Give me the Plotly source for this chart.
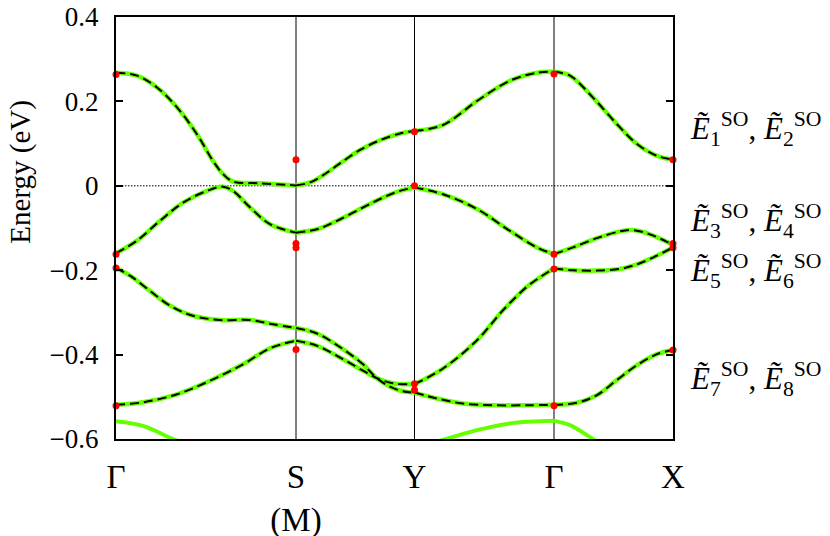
import plotly.graph_objects as go

# High-symmetry points along the k-path (arbitrary path-length units)
sym_labels = ["Γ", "S<br>(M)", "Y", "Γ", "X"]
sym_k = [0.0, 1.80, 2.985, 4.38, 5.57]

# Bands (k, E in eV); segments are separated where a k value repeats
b1_k = [0, 0.21, 0.41, 0.61, 0.81, 0.97, 1.07, 1.17, 1.44, 1.80,
        1.80, 1.94, 2.09, 2.24, 2.44, 2.64, 2.84, 2.985,
        2.985, 3.27, 3.61, 3.94, 4.21, 4.38,
        4.38, 4.54, 4.77, 5.01, 5.21, 5.41, 5.57]
b1_e = [0.268, 0.261, 0.233, 0.186, 0.122, 0.059, 0.028, 0.010, 0.006, 0.001,
        0.001, 0.008, 0.028, 0.053, 0.085, 0.108, 0.124, 0.130,
        0.130, 0.144, 0.201, 0.249, 0.268, 0.270,
        0.270, 0.261, 0.209, 0.146, 0.099, 0.071, 0.062]

b2_k = [0, 0.21, 0.44, 0.67, 0.91, 1.07, 1.17, 1.34, 1.54, 1.80,
        1.80, 2.01, 2.21, 2.44, 2.67, 2.84, 2.985,
        2.985, 3.27, 3.61, 3.94, 4.21, 4.38,
        4.38, 4.57, 4.81, 5.04, 5.17, 5.34, 5.57]
b2_e = [-0.160, -0.130, -0.083, -0.040, -0.012, -0.002, -0.012, -0.051, -0.091, -0.111,
        -0.111, -0.103, -0.083, -0.055, -0.028, -0.012, -0.004,
        -0.004, -0.020, -0.055, -0.107, -0.146, -0.162,
        -0.162, -0.146, -0.124, -0.108, -0.105, -0.115, -0.140]

b3_k = [0, 0.14, 0.34, 0.54, 0.77, 1.04, 1.34, 1.57, 1.80,
        1.80, 2.01, 2.27, 2.47, 2.61, 2.74, 2.87, 2.985,
        2.985, 3.21, 3.47, 3.77, 4.11, 4.38,
        4.38, 4.61, 4.81, 5.01, 5.21, 5.41, 5.57]
b3_e = [-0.195, -0.213, -0.249, -0.284, -0.308, -0.318, -0.318, -0.328, -0.337,
        -0.337, -0.350, -0.387, -0.423, -0.456, -0.476, -0.487, -0.490,
        -0.490, -0.504, -0.516, -0.520, -0.520, -0.519,
        -0.519, -0.514, -0.496, -0.460, -0.425, -0.399, -0.389]

b4_k = [0, 0.27, 0.61, 0.94, 1.27, 1.54, 1.80,
        1.80, 2.01, 2.27, 2.47, 2.61, 2.77, 2.985,
        2.985, 3.27, 3.61, 3.87, 4.11, 4.27, 4.38,
        4.38, 4.57, 4.81, 5.04, 5.21, 5.37, 5.57]
b4_e = [-0.519, -0.513, -0.494, -0.462, -0.423, -0.385, -0.367,
        -0.367, -0.379, -0.411, -0.438, -0.456, -0.468, -0.470,
        -0.470, -0.433, -0.366, -0.295, -0.239, -0.212, -0.196,
        -0.196, -0.200, -0.201, -0.197, -0.186, -0.170, -0.146]

# Lower bands shown only in green
b5_k = [0, 0.27, 0.57, 0.69,
        3.14, 3.26, 3.61, 3.94, 4.38,
        4.38, 4.54, 4.79, 4.86]
b5_e = [-0.558, -0.569, -0.600, -0.610,
        -0.612, -0.603, -0.579, -0.563, -0.557,
        -0.557, -0.567, -0.603, -0.612]
b5_breaks = [0.69]  # gap after this k (band leaves the window)

# Red dots at high-symmetry points
dot_k = [0.0] * 4 + [1.80] * 4 + [2.985] * 4 + [4.38] * 4 + [5.57] * 4
dot_e = [0.264, -0.162, -0.195, -0.521,
         0.062, -0.137, -0.147, -0.388,
         0.128, 0.000, -0.469, -0.484,
         0.265, -0.162, -0.197, -0.521,
         0.062, -0.137, -0.147, -0.389]

y_ticks = [0.4, 0.2, 0.0, -0.2, -0.4, -0.6]
y_ticktext = ["0.4", "0.2", "0", "−0.2", "−0.4", "−0.6"]

irrep_labels = ["<i>Ẽ</i><sub>1</sub><sup>SO</sup>, <i>Ẽ</i><sub>2</sub><sup>SO</sup>",
                "<i>Ẽ</i><sub>3</sub><sup>SO</sup>, <i>Ẽ</i><sub>4</sub><sup>SO</sup>",
                "<i>Ẽ</i><sub>5</sub><sup>SO</sup>, <i>Ẽ</i><sub>6</sub><sup>SO</sup>",
                "<i>Ẽ</i><sub>7</sub><sup>SO</sup>, <i>Ẽ</i><sub>8</sub><sup>SO</sup>"]
irrep_y = [0.134, -0.084, -0.203, -0.457]

GREEN = "#66ff00"
FONT = "Liberation Serif"


def with_gaps(ks, es, extra_breaks=()):
    xs, ys = [], []
    for i, (k, e) in enumerate(zip(ks, es)):
        xs.append(k)
        ys.append(e)
        if i + 1 < len(ks) and (ks[i + 1] == k or k in extra_breaks):
            xs.append(None)
            ys.append(None)
    return xs, ys


fig = go.Figure()

bands = [(b1_k, b1_e), (b2_k, b2_e), (b3_k, b3_e), (b4_k, b4_e)]

x5, y5 = with_gaps(b5_k, b5_e, b5_breaks)
fig.add_trace(go.Scatter(x=x5, y=y5, mode="lines",
                         line=dict(color=GREEN, width=4, shape="spline", smoothing=1.0),
                         hoverinfo="skip", showlegend=False))

for ks, es in bands:
    xs, ys = with_gaps(ks, es)
    fig.add_trace(go.Scatter(x=xs, y=ys, mode="lines",
                             line=dict(color=GREEN, width=4.5, shape="spline", smoothing=1.0),
                             hoverinfo="skip", showlegend=False))
for ks, es in bands:
    xs, ys = with_gaps(ks, es)
    fig.add_trace(go.Scatter(x=xs, y=ys, mode="lines",
                             line=dict(color="black", width=2, shape="spline", smoothing=1.0,
                                       dash="9px,5px"),
                             hoverinfo="skip", showlegend=False))

fig.add_trace(go.Scatter(x=dot_k, y=dot_e, mode="markers",
                         marker=dict(color="#ff0000", size=7, line=dict(width=0)),
                         cliponaxis=False, hoverinfo="skip", showlegend=False))

# vertical lines at interior high-symmetry points
for k in sym_k[1:-1]:
    fig.add_shape(type="line", x0=k, x1=k, y0=-0.6, y1=0.4, xref="x", yref="y",
                  line=dict(color="black", width=1), layer="below")
# Fermi level
fig.add_shape(type="line", x0=sym_k[0], x1=sym_k[-1], y0=0, y1=0, xref="x", yref="y",
              line=dict(color="black", width=1, dash="1.5px,1.5px"), layer="below")

for txt, yv in zip(irrep_labels, irrep_y):
    fig.add_annotation(text=txt, x=1.027, xref="paper", y=yv, yref="y",
                       xanchor="left", yanchor="middle", showarrow=False,
                       font=dict(family=FONT, size=31, color="black"))

fig.add_annotation(text="Energy (eV)", x=-0.171, xref="paper", y=0.633, yref="paper",
                   textangle=-90, xanchor="center", yanchor="middle", showarrow=False,
                   font=dict(family=FONT, size=29, color="black"))

# The page body has an 8px default margin, so the figure is sized to leave room for it.
fig.update_layout(
    width=822, height=528,
    margin=dict(l=108, r=157, t=9, b=97, autoexpand=False),
    paper_bgcolor="white", plot_bgcolor="white",
    font=dict(family=FONT, color="black"),
    xaxis=dict(range=[sym_k[0], sym_k[-1]], tickvals=sym_k, ticktext=sym_labels,
               showgrid=False, zeroline=False, showline=True, mirror=True,
               linecolor="black", linewidth=2, ticks="", automargin=False,
               tickfont=dict(family=FONT, size=33, color="black"),
               ticklabelstandoff=7),
    yaxis=dict(range=[-0.6, 0.4], tickvals=y_ticks, ticktext=y_ticktext,
               showgrid=False, zeroline=False, showline=True, mirror="ticks",
               linecolor="black", linewidth=2, ticks="inside", ticklen=7,
               tickwidth=1.5, tickcolor="black", automargin=False,
               ticklabeloverflow="allow",
               tickfont=dict(family=FONT, size=27, color="black"),
               ticklabelstandoff=10),
)

fig.write_html("out.html")
